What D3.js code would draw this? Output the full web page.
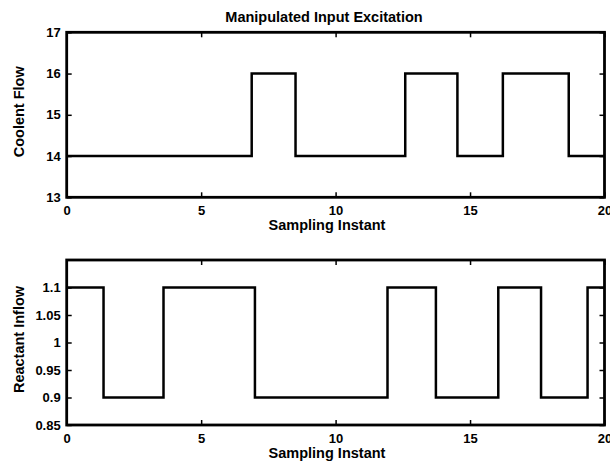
<!DOCTYPE html>
<html>
<head>
<meta charset="utf-8">
<script src="https://cdn.jsdelivr.net/npm/d3@7"></script>
<style>
  body { margin: 0; background: #fff; }
  svg { display: block; font-family: "Liberation Sans", Arial, Helvetica, sans-serif; }
  .tick text { font-size: 13px; font-weight: bold; fill: #000; }
  .tick line { stroke: #000; stroke-width: 1.5; }
  .lbl { font-size: 14.5px; font-weight: bold; fill: #000; }
  .sig { fill: none; stroke: #000; stroke-width: 2.5; }
</style>
</head>
<body>
<svg width="610" height="466"></svg>
<script>
// tick values
var xTicks = [0, 5, 10, 15, 20];
var coolTicks = [13, 14, 15, 16, 17];
var reactTicks = [0.85, 0.9, 0.95, 1, 1.05, 1.1];

// coolant flow: switch instants and levels (held until next instant)
var coolTimes  = [0, 6.88, 8.51, 12.59, 14.53, 16.22, 18.67, 20];
var coolValues = [14, 16, 14, 16, 14, 16, 14, 14];

// reactant inflow
var reactTimes  = [0, 1.37, 3.6, 7.0, 11.93, 13.73, 16.05, 17.64, 19.37, 20];
var reactValues = [1.1, 0.9, 1.1, 0.9, 1.1, 0.9, 1.1, 0.9, 1.1, 1.1];

var svg = d3.select("svg");
var left = 66.7, right = 604.5;

var x = d3.scaleLinear().domain([0, 20]).range([left, right]);

function panel(top, bottom, yDomain, yTicks, times, values, ylabel) {
  var y = d3.scaleLinear().domain(yDomain).range([bottom, top]);
  var g = svg.append("g");

  g.append("g")
      .attr("transform", "translate(0," + bottom + ")")
      .call(d3.axisBottom(x).tickValues(xTicks).tickSizeInner(-5).tickSizeOuter(0).tickPadding(8.5))
      .call(function(a) { a.select(".domain").remove(); });

  g.append("g")
      .attr("transform", "translate(0," + top + ")")
      .call(d3.axisTop(x).tickValues(xTicks).tickSizeInner(-5).tickSizeOuter(0).tickFormat(""))
      .call(function(a) { a.select(".domain").remove(); });

  g.append("g")
      .attr("transform", "translate(" + left + ",0)")
      .call(d3.axisLeft(y).tickValues(yTicks).tickSizeInner(-5).tickSizeOuter(0).tickPadding(6)
        .tickFormat(function(d) { return String(d); }))
      .call(function(a) { a.select(".domain").remove(); });

  g.append("g")
      .attr("transform", "translate(" + right + ",0)")
      .call(d3.axisRight(y).tickValues(yTicks).tickSizeInner(-5).tickSizeOuter(0).tickFormat(""))
      .call(function(a) { a.select(".domain").remove(); });

  var pts = times.map(function(t, i) { return {t: t, v: values[i]}; });
  var line = d3.line()
      .curve(d3.curveStepAfter)
      .x(function(d) { return x(d.t); })
      .y(function(d) { return y(d.v); });

  g.append("path")
      .datum(pts)
      .attr("class", "sig")
      .attr("d", line);

  g.append("rect")
      .attr("x", left).attr("y", top)
      .attr("width", right - left).attr("height", bottom - top)
      .attr("fill", "none").attr("stroke", "#000").attr("stroke-width", 2.8);

  g.append("text")
      .attr("class", "lbl")
      .attr("transform", "translate(24," + ((top + bottom) / 2 - 3) + ") rotate(-90)")
      .attr("text-anchor", "middle")
      .text(ylabel);

  g.append("text")
      .attr("class", "lbl")
      .attr("x", 327)
      .attr("y", bottom + 33)
      .attr("text-anchor", "middle")
      .text("Sampling Instant");
}

svg.append("text")
    .attr("class", "lbl")
    .attr("x", 324)
    .attr("y", 21.5)
    .attr("text-anchor", "middle")
    .text("Manipulated Input Excitation");

panel(32.3, 197.3, [13, 17], coolTicks, coolTimes, coolValues, "Coolent Flow");
panel(260, 425, [0.85, 1.15], reactTicks, reactTimes, reactValues, "Reactant Inflow");
</script>
</body>
</html>
